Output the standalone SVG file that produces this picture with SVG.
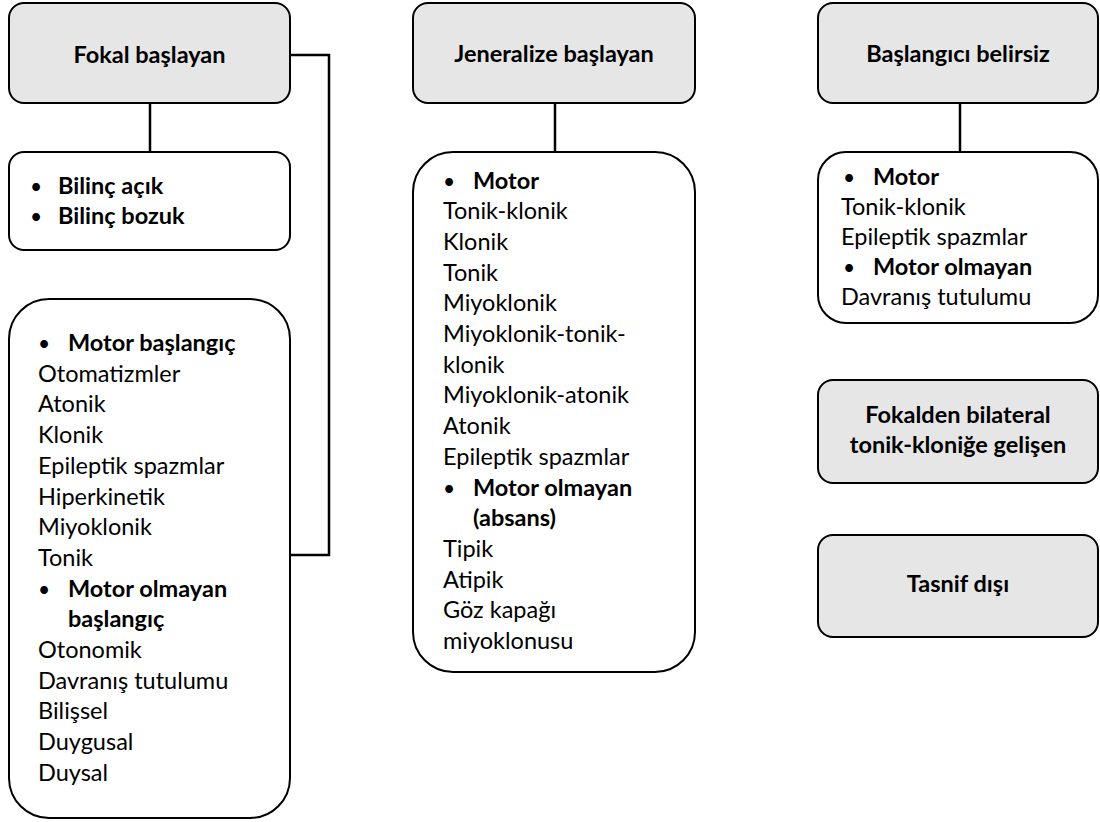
<svg xmlns="http://www.w3.org/2000/svg" width="1100" height="822" viewBox="0 0 1100 822">
  <style>
    .head { fill: #e6e6e6; stroke: #000; stroke-width: 2; }
    .list { fill: #fff; stroke: #000; stroke-width: 2; }
    .wire { fill: none; stroke: #000; stroke-width: 2.5; }
    text { font-family: Lato, "Noto Sans", "Liberation Sans", sans-serif; font-size: 23.5px; fill: #000; }
    .b { font-weight: 700; }
    .c { text-anchor: middle; }
    .dot { font-size: 21px; font-weight: 400; }
  </style>

  <!-- connectors -->
  <g id="connectors">
    <line class="wire" x1="150" y1="103" x2="150" y2="152"/>
    <line class="wire" x1="555" y1="103" x2="555" y2="152"/>
    <line class="wire" x1="960" y1="103" x2="960" y2="152"/>
    <polyline class="wire" points="290,55 329,55 329,555 291,555"/>
  </g>

  <!-- focal onset -->
  <g id="fokal-baslayan">
    <rect class="head" x="9" y="3" width="281" height="100" rx="15"/>
    <text class="b c" x="149.5" y="62.5">Fokal başlayan</text>
  </g>

  <g id="bilinc">
    <rect class="list" x="9" y="152" width="281" height="98" rx="15"/>
    <text class="b" y="194"><tspan class="dot" x="30">•</tspan><tspan x="58">Bilinç açık</tspan></text>
    <text class="b" y="224"><tspan class="dot" x="30">•</tspan><tspan x="58">Bilinç bozuk</tspan></text>
  </g>

  <g id="fokal-tipler">
    <rect class="list" x="9" y="299" width="281" height="519" rx="40"/>
    <text class="b" y="351"><tspan class="dot" x="38">•</tspan><tspan x="68">Motor başlangıç</tspan></text>
    <text x="38" y="381.7">Otomatizmler</text>
    <text x="38" y="412.4">Atonik</text>
    <text x="38" y="443.1">Klonik</text>
    <text x="38" y="473.8">Epileptik spazmlar</text>
    <text x="38" y="504.5">Hiperkinetik</text>
    <text x="38" y="535.2">Miyoklonik</text>
    <text x="38" y="565.9">Tonik</text>
    <text class="b" y="596.6"><tspan class="dot" x="38">•</tspan><tspan x="68">Motor olmayan</tspan></text>
    <text class="b" x="68" y="627.3">başlangıç</text>
    <text x="38" y="658">Otonomik</text>
    <text x="38" y="688.7">Davranış tutulumu</text>
    <text x="38" y="719.4">Bilişsel</text>
    <text x="38" y="750.1">Duygusal</text>
    <text x="38" y="780.8">Duysal</text>
  </g>

  <!-- generalized onset -->
  <g id="jeneralize-baslayan">
    <rect class="head" x="413" y="3" width="282" height="100" rx="15"/>
    <text class="b c" x="554" y="62">Jeneralize başlayan</text>
  </g>

  <g id="jeneralize-tipler">
    <rect class="list" x="413" y="152" width="282" height="520" rx="40"/>
    <text class="b" y="188.5"><tspan class="dot" x="443">•</tspan><tspan x="473">Motor</tspan></text>
    <text x="443" y="219.2">Tonik-klonik</text>
    <text x="443" y="249.9">Klonik</text>
    <text x="443" y="280.6">Tonik</text>
    <text x="443" y="311.3">Miyoklonik</text>
    <text x="443" y="342">Miyoklonik-tonik-</text>
    <text x="443" y="372.7">klonik</text>
    <text x="443" y="403.4">Miyoklonik-atonik</text>
    <text x="443" y="434.1">Atonik</text>
    <text x="443" y="464.8">Epileptik spazmlar</text>
    <text class="b" y="495.5"><tspan class="dot" x="443">•</tspan><tspan x="473">Motor olmayan</tspan></text>
    <text class="b" x="473" y="526.2">(absans)</text>
    <text x="443" y="556.9">Tipik</text>
    <text x="443" y="587.6">Atipik</text>
    <text x="443" y="618.3">Göz kapağı</text>
    <text x="443" y="649">miyoklonusu</text>
  </g>

  <!-- unknown onset -->
  <g id="baslangici-belirsiz">
    <rect class="head" x="818" y="3" width="280" height="100" rx="15"/>
    <text class="b c" x="958" y="62">Başlangıcı belirsiz</text>
  </g>

  <g id="belirsiz-tipler">
    <rect class="list" x="818" y="152" width="280" height="171" rx="28"/>
    <text class="b" y="184.5"><tspan class="dot" x="843">•</tspan><tspan x="873">Motor</tspan></text>
    <text x="841" y="214.7">Tonik-klonik</text>
    <text x="841" y="244.9">Epileptik spazmlar</text>
    <text class="b" y="275.1"><tspan class="dot" x="843">•</tspan><tspan x="873">Motor olmayan</tspan></text>
    <text x="841" y="305.3">Davranış tutulumu</text>
  </g>

  <g id="fokalden-bilateral">
    <rect class="head" x="818" y="380" width="280" height="103" rx="15"/>
    <text class="b c" x="958" y="423">Fokalden bilateral</text>
    <text class="b c" x="958" y="453">tonik-kloniğe gelişen</text>
  </g>

  <g id="tasnif-disi">
    <rect class="head" x="818" y="535" width="280" height="102" rx="15"/>
    <text class="b c" x="958" y="592">Tasnif dışı</text>
  </g>
</svg>
